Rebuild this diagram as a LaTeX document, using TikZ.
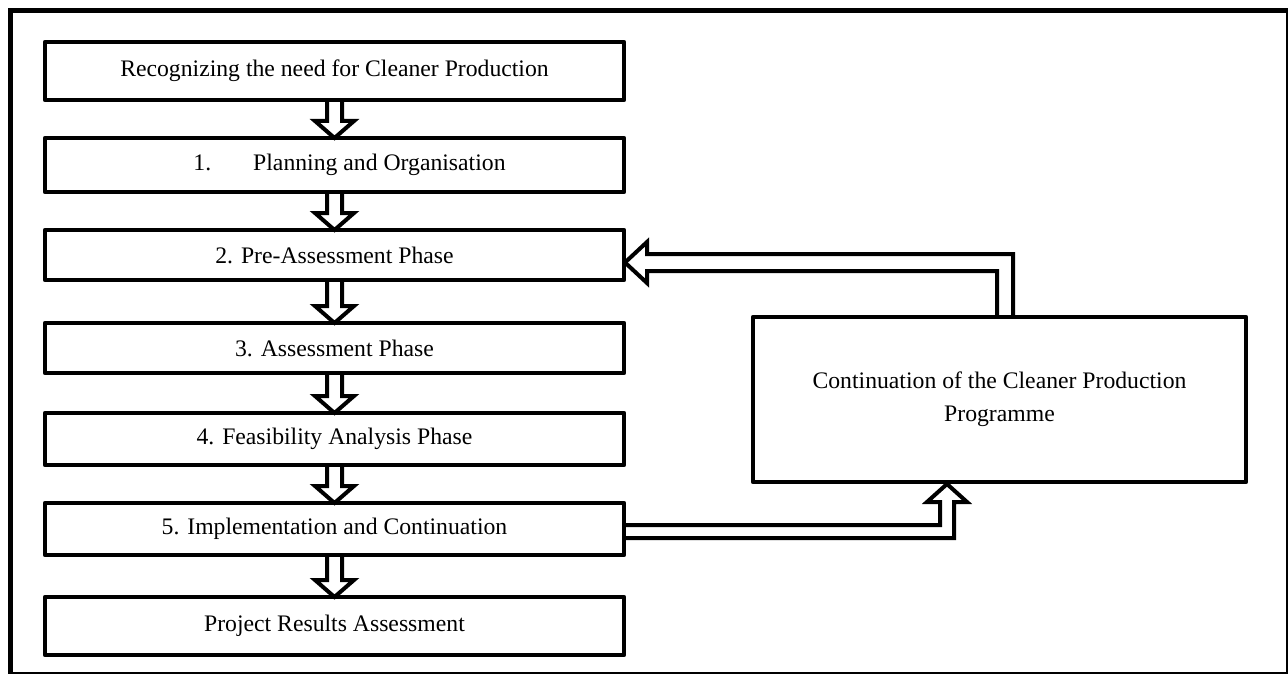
\documentclass[tikz,border=0pt]{standalone}
\usepackage{fontspec}
\setmainfont{Liberation Serif}
\usetikzlibrary{calc}
\pgfdeclarelayer{bg}
\pgfsetlayers{bg,main}
\begin{document}
\begin{tikzpicture}[x=1pt,y=-1pt,
  box/.style={draw, line width=4.5pt, line join=round, rectangle, minimum width=579pt, inner sep=0pt, outer sep=0pt, font=\fontsize{23.7}{28}\selectfont},
  bigbox/.style={draw, line width=4.5pt, line join=round, rectangle, minimum width=493pt, minimum height=165pt, inner sep=0pt, outer sep=0pt, align=center, font=\fontsize{23.7}{33}\selectfont},
  blk/.style={draw, line width=4pt, fill=white, line join=miter}]
\useasboundingbox (0,0) rectangle (1288,674);
\draw[line width=5pt] (10.5,10.5) rectangle (1288.5,674.5);

\node[box, minimum height=58pt] (rec) at (334.5,71) {Recognizing the need for Cleaner Production};
\node[box, minimum height=54pt] (plan) at (334.5,165) {\hspace*{30pt}1.\hspace{42pt}Planning and Organisation};
\node[box, minimum height=50pt] (pre) at (334.5,255) {2. Pre-Assessment Phase};
\node[box, minimum height=50pt] (ass) at (334.5,348) {3. Assessment Phase};
\node[box, minimum height=52pt] (feas) at (334.5,439) {4. Feasibility Analysis Phase};
\node[box, minimum height=52pt] (impl) at (334.5,529) {5. Implementation and Continuation};
\node[box, minimum height=58pt] (res) at (334.5,626) {Project Results Assessment};
\node[bigbox] (cont) at (999.5,399.5) {Continuation of the Cleaner Production\\Programme};

\newcommand{\blockdown}[2]{%
  \draw[blk] ($(#1.south)+(-7.5,0)$) -- ($(#2.north)+(-7.5,-17)$) -- ($(#2.north)+(-19.5,-17)$) -- (#2.north) -- ($(#2.north)+(19.5,-17)$) -- ($(#2.north)+(7.5,-17)$) -- ($(#1.south)+(7.5,0)$);}

\coordinate (ft) at ($(pre.east)+(1,7.5)$);
\coordinate (bt) at ($(cont.south)+(-52.5,2)$);

\begin{pgfonlayer}{bg}
\blockdown{rec}{plan}
\blockdown{plan}{pre}
\blockdown{pre}{ass}
\blockdown{ass}{feas}
\blockdown{feas}{impl}
\blockdown{impl}{res}
\draw[blk] ($(cont.north)+(-2.5,0)$) -- ($(cont.north)+(-2.5,-46)$) -- ($(ft)+(22,8.5)$) -- ($(ft)+(22,20.5)$) -- (ft) -- ($(ft)+(22,-20.5)$) -- ($(ft)+(22,-8.5)$) -- ($(cont.north)+(13.5,-63)$) -- ($(cont.north)+(13.5,0)$);
\draw[blk] ($(impl.east)+(0,-4)$) -- ($(bt)+(-7,41)$) -- ($(bt)+(-7,18)$) -- ($(bt)+(-20,18)$) -- (bt) -- ($(bt)+(20,18)$) -- ($(bt)+(7,18)$) -- ($(bt)+(7,54)$) -- ($(impl.east)+(0,9)$);
\end{pgfonlayer}
\end{tikzpicture}
\end{document}
